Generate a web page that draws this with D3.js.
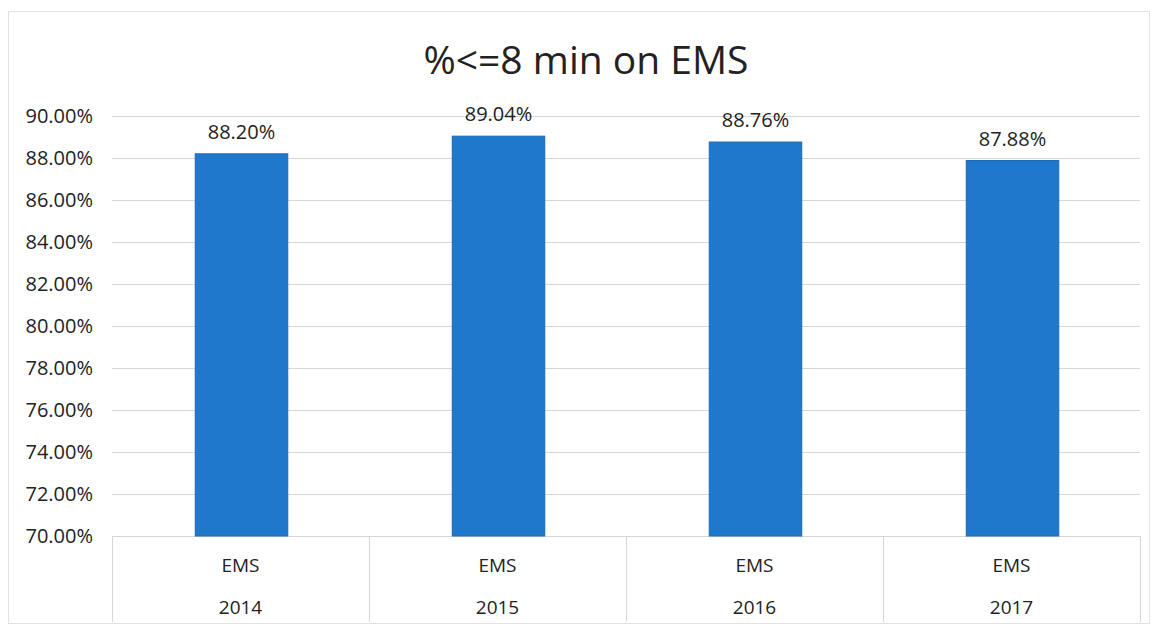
<!DOCTYPE html>
<html>
<head>
<meta charset="utf-8">
<script src="https://cdn.jsdelivr.net/npm/d3@7"></script>
<style>
body { margin: 0; background: #fff; }
text { font-family: "Open Sans", "Liberation Sans", sans-serif; fill: #222; }
</style>
</head>
<body>
<svg id="chart" width="1154" height="627"></svg>
<script>
var years = ['2014', '2015', '2016', '2017'];
var groups = ['EMS', 'EMS', 'EMS', 'EMS'];
var values = [88.20, 89.04, 88.76, 87.88];
var yTicks = [70, 72, 74, 76, 78, 80, 82, 84, 86, 88, 90];

var svg = d3.select('#chart'),
	pad = {left: 112, right: 14, top: 116, bottom: 91},
	w = 1154 - pad.left - pad.right,
	h = 627 - pad.top - pad.bottom;

// outer frame
svg.append('rect').attr('x', 8.5).attr('y', 11.5).attr('width', 1141).attr('height', 612)
	.attr('fill', 'none').attr('stroke', '#e2e2e2');

svg.append('text').attr('x', 586).attr('y', 74).attr('text-anchor', 'middle')
	.attr('font-size', 39).text('%<=8 min on EMS');

var x = d3.scaleBand().domain(years).range([0, w]).paddingInner(0).paddingOuter(0);
var y = d3.scaleLinear().domain([70, 90]).range([h, 0]);

var g = svg.append('g').attr('transform', 'translate(' + pad.left + ',' + pad.top + ')');

// grid
g.selectAll('line.grid').data(yTicks).enter().append('line').attr('class', 'grid')
	.attr('x1', 0).attr('x2', w)
	.attr('y1', function (d) {return y(d) + 0.5;}).attr('y2', function (d) {return y(d) + 0.5;})
	.attr('stroke', '#d6d6d6').attr('stroke-width', 1);

// y axis labels
var yAxis = d3.axisLeft(y).tickValues(yTicks).tickSize(0).tickPadding(19)
	.tickFormat(function (d) {return d.toFixed(2) + '%';});
g.append('g').call(yAxis).call(function (s) {
	s.select('.domain').remove();
	s.selectAll('text').attr('font-size', 20).attr('fill', '#222')
		.style('font-family', '"Open Sans", "Liberation Sans", sans-serif');
});

// bars
var bw = x.bandwidth() * 0.36;
g.selectAll('rect.bar').data(values).enter().append('rect').attr('class', 'bar')
	.attr('x', function (d, i) {return x(years[i]) + x.bandwidth() / 2 - bw / 2 + 1;})
	.attr('width', bw)
	.attr('y', function (d) {return y(d);})
	.attr('height', function (d) {return h - y(d);})
	.attr('fill', '#1f78cc').attr('stroke', '#1a6ab5').attr('stroke-width', 1);

// data labels
g.selectAll('text.val').data(values).enter().append('text').attr('class', 'val')
	.attr('x', function (d, i) {return x(years[i]) + x.bandwidth() / 2 + 1;})
	.attr('y', function (d) {return y(d) - 15;})
	.attr('text-anchor', 'middle').attr('font-size', 20)
	.text(function (d) {return d.toFixed(2) + '%';});

// category axis (two levels)
var seps = years.map(function (d) {return x(d);}).concat([w]);
g.selectAll('line.sep').data(seps).enter().append('line').attr('class', 'sep')
	.attr('x1', function (d) {return d + 0.5;}).attr('x2', function (d) {return d + 0.5;})
	.attr('y1', h).attr('y2', h + 86)
	.attr('stroke', '#d6d6d6');

g.selectAll('text.grp').data(groups).enter().append('text').attr('class', 'grp')
	.attr('x', function (d, i) {return x(years[i]) + x.bandwidth() / 2;})
	.attr('y', h + 36).attr('text-anchor', 'middle').attr('font-size', 19)
	.text(function (d) {return d;});

g.selectAll('text.yr').data(years).enter().append('text').attr('class', 'yr')
	.attr('x', function (d) {return x(d) + x.bandwidth() / 2;})
	.attr('y', h + 78).attr('text-anchor', 'middle').attr('font-size', 19)
	.text(function (d) {return d;});
</script>
</body>
</html>
